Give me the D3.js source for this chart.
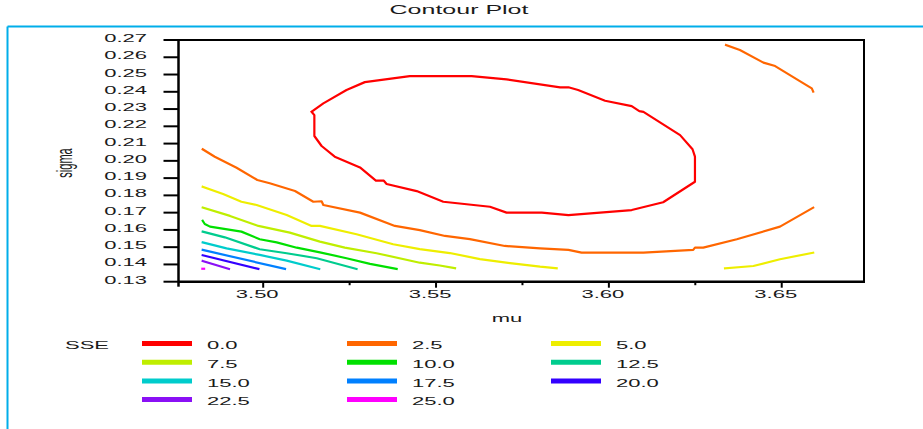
<!DOCTYPE html>
<html>
<head>
<meta charset="utf-8">
<script src="https://cdn.jsdelivr.net/npm/d3@7"></script>
<style>
  html, body { margin: 0; padding: 0; background: #ffffff; }
  svg { display: block; }
  text { font-family: "Liberation Sans", Arial, Helvetica, sans-serif; fill: #1a1a1a; }
</style>
</head>
<body>
<svg id="chart" width="923" height="429"></svg>
<script>
// ---------------- DATA ----------------
const chartTitle = "Contour Plot";
const xLabel = "mu";
const yLabel = "sigma";
const legendTitle = "SSE";

const xTickValues = [3.50, 3.55, 3.60, 3.65];
const xTickLabels = ["3.50", "3.55", "3.60", "3.65"];
const xMinorTicks = [3.525, 3.575, 3.625];
const yTickValues = [0.27, 0.26, 0.25, 0.24, 0.23, 0.22, 0.21, 0.20, 0.19, 0.18, 0.17, 0.16, 0.15, 0.14, 0.13];
const yTickLabels = ["0.27", "0.26", "0.25", "0.24", "0.23", "0.22", "0.21", "0.20", "0.19", "0.18", "0.17", "0.16", "0.15", "0.14", "0.13"];

const levelLabels = ["0.0", "2.5", "5.0", "7.5", "10.0", "12.5", "15.0", "17.5", "20.0", "22.5", "25.0"];
const levelColors = ["#ff0000", "#ff6600", "#eeee00", "#bfee00", "#00e000", "#00cc8e", "#00cccc", "#0080ff", "#3300ff", "#8a10f5", "#ff00ff"];

// contour polylines, [mu, sigma]
const sse00 = [[3.5140, 0.2284], [3.5148, 0.2265], [3.5148, 0.2144], [3.5169, 0.2086], [3.5207, 0.2024],
  [3.5280, 0.1962], [3.5326, 0.1885], [3.5349, 0.1885], [3.5357, 0.1866], [3.5444, 0.1825],
  [3.5521, 0.1763], [3.5656, 0.1734], [3.5704, 0.1700], [3.5806, 0.1700], [3.5883, 0.1686],
  [3.6066, 0.1715], [3.6157, 0.1760], [3.6249, 0.1879], [3.6249, 0.2024], [3.6242, 0.2067],
  [3.6206, 0.2149], [3.6100, 0.2284], [3.6088, 0.2288], [3.6066, 0.2317], [3.5989, 0.2348],
  [3.5911, 0.2410], [3.5883, 0.2426], [3.5859, 0.2426], [3.5704, 0.2472], [3.5603, 0.2491],
  [3.5424, 0.2491], [3.5294, 0.2456], [3.5241, 0.2410], [3.5174, 0.2333], [3.5140, 0.2284]];
const sse25a = [[3.4825, 0.2067], [3.4860, 0.2024], [3.4923, 0.1960], [3.4983, 0.1889], [3.5019, 0.1870],
  [3.5092, 0.1825], [3.5145, 0.1763], [3.5169, 0.1766], [3.5174, 0.1744], [3.5280, 0.1700],
  [3.5381, 0.1623], [3.5453, 0.1599], [3.5526, 0.1565], [3.5598, 0.1547], [3.5699, 0.1507],
  [3.5801, 0.1493], [3.5883, 0.1484], [3.5921, 0.1468], [3.6100, 0.1468], [3.6244, 0.1484],
  [3.6249, 0.1497], [3.6273, 0.1497], [3.6370, 0.1546], [3.6495, 0.1619], [3.6591, 0.1729]];
const sse25b = [[3.6339, 0.2671], [3.6379, 0.2642], [3.6447, 0.2569], [3.6481, 0.2549], [3.6563, 0.2449],
  [3.6587, 0.2420], [3.6591, 0.2401]];
const sse50a = [[3.4825, 0.1850], [3.4884, 0.1808], [3.4937, 0.1763], [3.4981, 0.1744], [3.5068, 0.1686],
  [3.5140, 0.1623], [3.5164, 0.1623], [3.5270, 0.1575], [3.5376, 0.1517], [3.5453, 0.1489],
  [3.5540, 0.1466], [3.5627, 0.1431], [3.5714, 0.1408], [3.5801, 0.1387], [3.5849, 0.1378]];
const sse50b = [[3.6336, 0.1378], [3.6418, 0.1391], [3.6495, 0.1430], [3.6591, 0.1468]];
const sse75 = [[3.4825, 0.1729], [3.4904, 0.1681], [3.4986, 0.1623], [3.5077, 0.1584], [3.5164, 0.1532],
  [3.5236, 0.1497], [3.5328, 0.1465], [3.5453, 0.1410], [3.5511, 0.1394], [3.5555, 0.1378]];
const sse100 = [[3.4825, 0.1653], [3.4831, 0.1634], [3.4846, 0.1619], [3.4937, 0.1590], [3.4990, 0.1546],
  [3.5039, 0.1528], [3.5097, 0.1497], [3.5164, 0.1470], [3.5241, 0.1436], [3.5309, 0.1403], [3.5386, 0.1374]];
const sse125 = [[3.4825, 0.1590], [3.4889, 0.1557], [3.4990, 0.1488], [3.5068, 0.1465], [3.5155, 0.1436], [3.5270, 0.1374]];
const sse150 = [[3.4825, 0.1528], [3.4894, 0.1493], [3.4990, 0.1455], [3.5068, 0.1422], [3.5162, 0.1374]];
const sse175 = [[3.4825, 0.1484], [3.5063, 0.1374]];
const sse200 = [[3.4825, 0.1453], [3.4986, 0.1374]];
const sse225 = [[3.4825, 0.1420], [3.4901, 0.1374]];
const sse250 = [[3.4824, 0.1375], [3.4829, 0.1375]];

const contourLevels = [
  { level: 0, paths: [sse00] },
  { level: 1, paths: [sse25a, sse25b] },
  { level: 2, paths: [sse50a, sse50b] },
  { level: 3, paths: [sse75] },
  { level: 4, paths: [sse100] },
  { level: 5, paths: [sse125] },
  { level: 6, paths: [sse150] },
  { level: 7, paths: [sse175] },
  { level: 8, paths: [sse200] },
  { level: 9, paths: [sse225] },
  { level: 10, paths: [sse250] }
];

// ---------------- LAYOUT ----------------
const svg = d3.select("#chart");
const plot = { left: 178.5, right: 864, top: 40, bottom: 281.7 };
const x = d3.scaleLinear().domain([3.4755, 3.6738]).range([plot.left, plot.right]);
const y = d3.scaleLinear().domain([0.13, 0.27]).range([plot.bottom, plot.top]);
const FONT = 11;

function stretchedText(g, px, py, str, anchor, size, extra) {
  return g.append("text")
    .attr("transform", `translate(${px},${py}) scale(2,1)` + (extra || ""))
    .attr("text-anchor", anchor || "start")
    .style("font-size", (size || FONT) + "px")
    .text(str);
}

// blue outer border
const borderColor = "#00aeea";
svg.append("line").attr("x1", 7.5).attr("x2", 923).attr("y1", 26.5).attr("y2", 26.5)
  .attr("stroke", borderColor).attr("stroke-width", 2);
svg.append("line").attr("x1", 7.5).attr("x2", 7.5).attr("y1", 26.5).attr("y2", 429)
  .attr("stroke", borderColor).attr("stroke-width", 2);

// title
stretchedText(svg, 459, 14, chartTitle, "middle", 12.5);

// contours
const lineGen = d3.line().x(d => x(d[0])).y(d => y(d[1]));
const cg = svg.append("g");
contourLevels.forEach(c => {
  c.paths.forEach(p => {
    cg.append("path").attr("d", lineGen(p))
      .attr("fill", "none")
      .attr("stroke", levelColors[c.level])
      .attr("stroke-width", 2.2)
      .attr("stroke-linejoin", "round")
      .attr("stroke-linecap", "square");
  });
});

// frame
const fg = svg.append("g").attr("stroke", "#000").attr("fill", "none");
fg.append("line").attr("x1", plot.left).attr("x2", plot.right + 1).attr("y1", plot.top).attr("y2", plot.top).attr("stroke-width", 2);
fg.append("line").attr("x1", plot.right).attr("x2", plot.right).attr("y1", plot.top).attr("y2", plot.bottom).attr("stroke-width", 2);
fg.append("line").attr("x1", plot.left).attr("x2", plot.right + 1).attr("y1", plot.bottom).attr("y2", plot.bottom).attr("stroke-width", 2.5);
fg.append("line").attr("x1", plot.left).attr("x2", plot.left).attr("y1", plot.top - 1).attr("y2", plot.bottom + 5).attr("stroke-width", 2.5);

// y ticks
yTickValues.forEach((v, i) => {
  fg.append("line").attr("x1", plot.left - 15).attr("x2", plot.left).attr("y1", y(v)).attr("y2", y(v)).attr("stroke-width", 2);
  stretchedText(svg, 147, y(v) + 2, yTickLabels[i], "end", FONT);
});

// x ticks
xTickValues.forEach((v, i) => {
  fg.append("line").attr("x1", x(v)).attr("x2", x(v)).attr("y1", plot.bottom).attr("y2", plot.bottom + 6).attr("stroke-width", 2);
  stretchedText(svg, x(v) - 6, 298, xTickLabels[i], "middle", FONT);
});
xMinorTicks.forEach(v => {
  fg.append("line").attr("x1", x(v)).attr("x2", x(v)).attr("y1", plot.bottom).attr("y2", plot.bottom + 3.5).attr("stroke-width", 2);
});

// axis titles
stretchedText(svg, 507, 322, xLabel, "middle", FONT);
stretchedText(svg, 72, 163, yLabel, "middle", FONT, " rotate(-90)");

// legend
stretchedText(svg, 65, 348.5, legendTitle, "start", FONT);
const colX = [142, 347, 551];
const rowY = [343.5, 362.3, 381, 399.5];
levelLabels.forEach((lab, i) => {
  const cx = colX[i % 3], ry = rowY[Math.floor(i / 3)];
  svg.append("line").attr("x1", cx).attr("x2", cx + 50).attr("y1", ry).attr("y2", ry)
    .attr("stroke", levelColors[i]).attr("stroke-width", 5);
  stretchedText(svg, cx + 65, ry + 5.5, lab, "start", FONT);
});
</script>
</body>
</html>
